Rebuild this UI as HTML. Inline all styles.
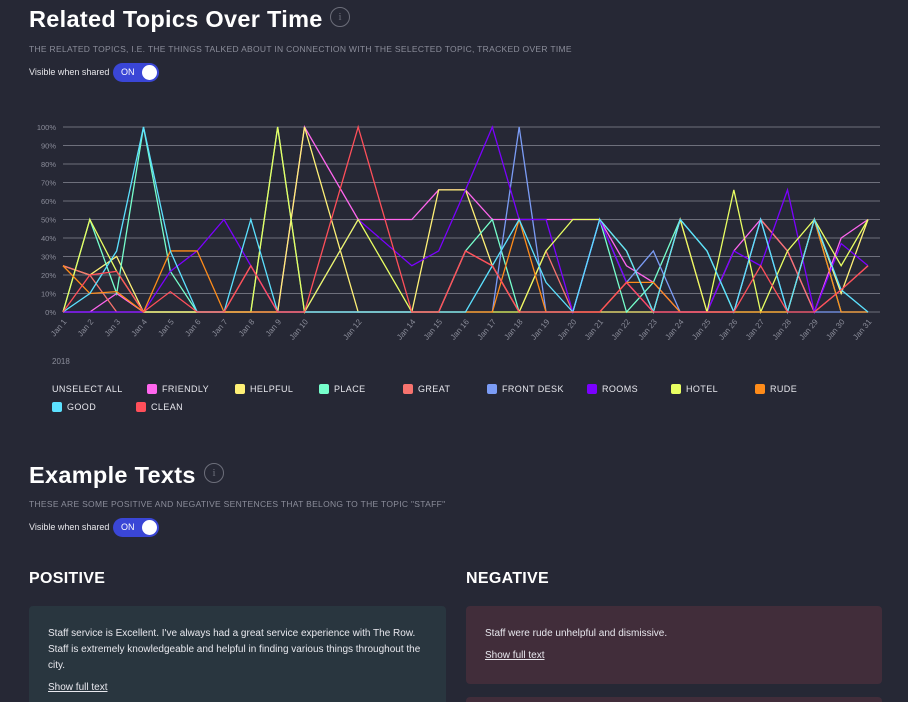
<!DOCTYPE html>
<html><head><meta charset="utf-8"><style>
*{margin:0;padding:0;box-sizing:border-box}
html,body{width:908px;height:702px;overflow:hidden}
body{background:#262835;font-family:"Liberation Sans",sans-serif;color:#fff;position:relative}
.a{position:absolute}
h1,h2{position:absolute;font-weight:bold;letter-spacing:0.3px}
.sub{position:absolute;font-size:8.5px;color:#8b8d9a;letter-spacing:0.3px;white-space:nowrap}
.vis{position:absolute;font-size:9px;color:#e6e6ea;white-space:nowrap}
.tog{position:absolute;width:46px;height:19px;border-radius:10px;background:#3a46d6}
.tog span{position:absolute;left:8px;top:4px;font-size:9px}
.tog i{position:absolute;right:2px;top:2px;width:15px;height:15px;border-radius:50%;background:#fff}
.info{position:absolute;width:20px;height:20px;border:1px solid #6c6e7a;border-radius:50%;color:#6c6e7a;font-size:11px;text-align:center;line-height:18px;font-family:"Liberation Serif",serif}
.leg{position:absolute;font-size:9px;color:#e8e8ee;letter-spacing:0.4px;white-space:nowrap}
.sq{position:absolute;width:10px;height:10px;border-radius:2px}
.card{position:absolute;border-radius:4px;font-size:10px;line-height:16px;color:#e8e8ee;padding:0 19px}
.card u{display:block}
</style></head><body>
<h1 style="left:29px;top:6px;font-size:23.5px">Related Topics Over Time</h1>
<div class="info" style="left:330px;top:7px">i</div>
<div class="sub" style="left:29px;top:44px">THE RELATED TOPICS, I.E. THE THINGS TALKED ABOUT IN CONNECTION WITH THE SELECTED TOPIC, TRACKED OVER TIME</div>
<div class="vis" style="left:29px;top:67px">Visible when shared</div>
<div class="tog" style="left:113px;top:63px"><span>ON</span><i></i></div>

<svg id="chart" class="a" style="left:0;top:110px" width="908" height="260"></svg>

<div class="leg" style="left:52px;top:384px">UNSELECT ALL</div>
<div id="legend"></div>

<h1 style="left:29px;top:462px;font-size:23.5px">Example Texts</h1>
<div class="info" style="left:204px;top:463px">i</div>
<div class="sub" style="left:29px;top:499px">THESE ARE SOME POSITIVE AND NEGATIVE SENTENCES THAT BELONG TO THE TOPIC "STAFF"</div>
<div class="vis" style="left:29px;top:522px">Visible when shared</div>
<div class="tog" style="left:113px;top:518px"><span>ON</span><i></i></div>

<h2 style="left:29px;top:570px;font-size:16px">POSITIVE</h2>
<h2 style="left:466px;top:570px;font-size:16px">NEGATIVE</h2>
<div class="card" style="left:29px;top:606px;width:417px;height:110px;background:#29363f;padding-top:20px">Staff service is Excellent. I've always had a great service experience with The Row. Staff is extremely knowledgeable and helpful in finding various things throughout the city.<u style="margin-top:6px">Show full text</u></div>
<div class="card" style="left:466px;top:606px;width:416px;height:78px;background:#412d3a;padding-top:20px">Staff were rude unhelpful and dismissive.<u style="margin-top:6px">Show full text</u></div>
<div class="card" style="left:466px;top:697px;width:416px;height:40px;background:#412d3a"></div>

<script>
const days=[1,2,3,4,5,6,7,8,9,10,12,14,15,16,17,18,19,20,21,22,23,24,25,26,27,28,29,30,31];
const yTicks=[0,10,20,30,40,50,60,70,80,90,100];
const names=["FRIENDLY","HELPFUL","PLACE","GREAT","FRONT DESK","ROOMS","HOTEL","RUDE","GOOD","CLEAN"];
const colors=["#ff66ee","#fff176","#76ffcc","#f7736e","#7b9cf5","#7b00ff","#e9ff62","#ff8c1a","#5ce1ff","#ff4f5a"];
const friendly=[0,0,10,0,0,0,0,0,0,100,50,50,66,66,50,50,50,50,50,25,16,0,0,33,50,33,0,40,50];
const helpful=[25,20,30,0,0,0,0,0,0,100,0,0,66,66,25,0,0,0,0,0,0,0,0,0,0,0,50,10,50];
const place=[0,50,10,100,22,0,0,0,100,0,0,0,0,33,50,0,0,0,50,0,16,50,33,0,0,0,50,0,0];
const great=[25,20,0,0,0,0,0,25,0,0,0,0,0,33,25,0,33,0,0,16,0,50,0,0,50,33,0,12,25];
const frontDesk=[0,0,0,0,0,0,0,0,0,0,0,0,0,0,0,100,0,0,50,16,33,0,0,0,50,0,0,0,0];
const rooms=[0,0,0,0,22,33,50,25,0,0,50,25,33,66,100,50,50,0,50,16,0,0,0,33,25,66,0,37,25];
const hotel=[0,50,22,0,0,0,0,0,100,0,50,0,0,0,0,0,33,50,50,33,0,50,0,66,0,33,50,25,50];
const rude=[25,10,11,0,33,33,0,0,0,0,0,0,0,0,0,50,0,0,0,16,16,0,0,0,0,0,50,0,0];
const good=[0,10,33,100,33,0,0,50,0,0,0,0,0,0,25,50,16,0,50,33,0,50,33,0,50,0,50,12,0];
const clean=[0,20,22,0,11,0,0,25,0,0,100,0,0,33,25,0,0,0,0,16,0,0,0,0,25,0,0,12,25];
const series=[friendly,helpful,place,great,frontDesk,rooms,hotel,rude,good,clean];
const NS="http://www.w3.org/2000/svg";
const svg=document.getElementById('chart');
const X0=63,X1=868,Y0=202,Y1=17;
const xs=d=>X0+(d-1)*(X1-X0)/30;
const ys=v=>Y0-(v/100)*(Y0-Y1);
function mk(t,a){const e=document.createElementNS(NS,t);for(const k in a)e.setAttribute(k,a[k]);svg.appendChild(e);return e;}
yTicks.forEach(v=>{
  const l=mk('line',{x1:X0,x2:880,y1:ys(v),y2:ys(v),stroke:'#6e707c','stroke-width':1});
  
  
  const t=mk('text',{x:56,y:ys(v)+3,'text-anchor':'end','font-size':7.5,fill:'#8b8d9a','font-family':'Liberation Sans, sans-serif'});
  t.textContent=v+'%';
  
  
});
days.forEach(d=>{
  const t=mk('text',{x:xs(d)+4,y:Y0+10,'text-anchor':'end','font-size':8,fill:'#8b8d9a','font-family':'Liberation Sans, sans-serif',transform:`rotate(-50 ${xs(d)+4} ${Y0+10})`});
  t.textContent='Jan '+d;
  
  
});
const yr=mk('text',{x:52,y:254,'font-size':8,fill:'#8b8d9a','font-family':'Liberation Sans, sans-serif'});
yr.textContent='2018';


series.forEach((s,i)=>{
  const p=mk('polyline',{points:s.map((v,j)=>xs(days[j])+','+ys(v)).join(' '),fill:'none',stroke:colors[i],'stroke-width':1.3,'stroke-linejoin':'miter'});
  
  
});
const legPos=[[147,389],[235,389],[319,389],[403,389],[487,389],[587,389],[671,389],[755,389],[52,407],[136,407]];
const lg=document.getElementById('legend');
names.forEach((n,i)=>{
  const sq=document.createElement('div');sq.className='sq';
  sq.style.left=legPos[i][0]+'px';sq.style.top=(legPos[i][1]-5)+'px';sq.style.background=colors[i];
  
  
  lg.appendChild(sq);
  const t=document.createElement('div');t.className='leg';t.textContent=n;
  t.style.left=(legPos[i][0]+15)+'px';t.style.top=(legPos[i][1]-5)+'px';
  
  
  lg.appendChild(t);
});
</script>
</body></html>
